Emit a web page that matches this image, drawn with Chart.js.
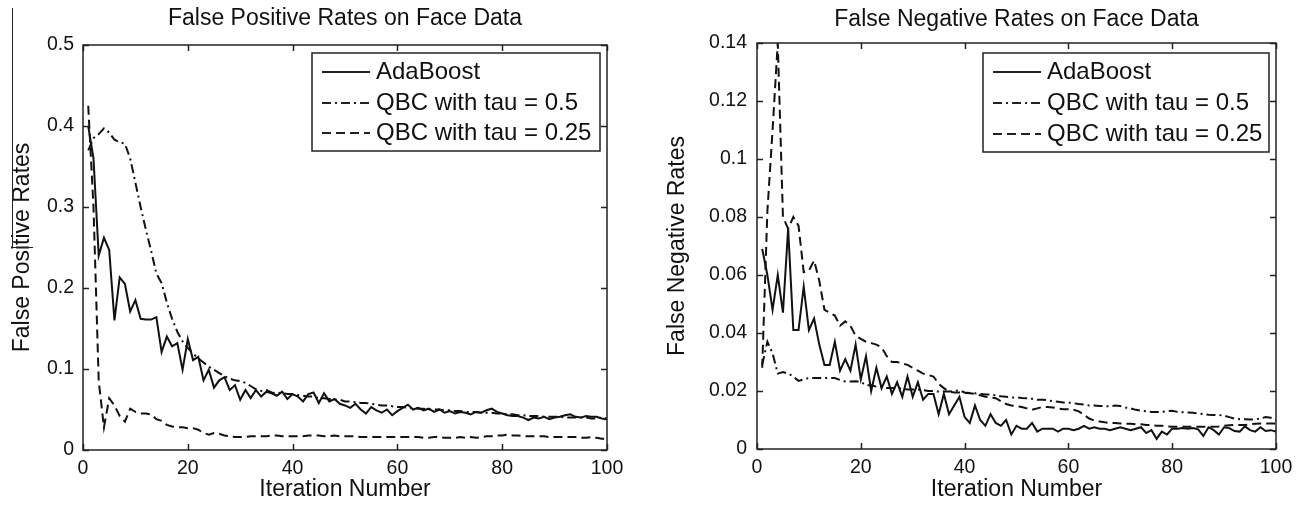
<!DOCTYPE html>
<html>
<head>
<meta charset="utf-8">
<script src="https://cdn.jsdelivr.net/npm/chart.js@4.4.1/dist/chart.umd.min.js"></script>
<style>
  html, body { margin: 0; padding: 0; background: #fff; }
  #wrap { position: relative; width: 1300px; height: 509px; overflow: hidden; }
  .pane { position: absolute; top: 0; width: 650px; height: 509px; }
  #paneFp { left: 0; }
  #paneFn { left: 650px; }
  /* crop edge left over in the scanned figure */
  #edge { position: absolute; left: 12px; top: 8px; width: 20px; height: 239px;
          border-left: 1.5px solid #222; border-bottom: 1.5px solid #222; }
</style>
</head>
<body>
<div id="wrap">
  <div class="pane" id="paneFp"><canvas id="fpChart" width="650" height="509"></canvas></div>
  <div class="pane" id="paneFn"><canvas id="fnChart" width="650" height="509"></canvas></div>
  <div id="edge"></div>
</div>
<script>
// ─── Data ────────────────────────────────────────────────────
const iterations = [
  1, 2, 3, 4, 5, 6, 7, 8, 9, 10, 11, 12, 13, 14, 15, 16, 17, 18, 19, 20,
  21, 22, 23, 24, 25, 26, 27, 28, 29, 30, 31, 32, 33, 34, 35, 36, 37, 38, 39, 40,
  41, 42, 43, 44, 45, 46, 47, 48, 49, 50, 51, 52, 53, 54, 55, 56, 57, 58, 59, 60,
  61, 62, 63, 64, 65, 66, 67, 68, 69, 70, 71, 72, 73, 74, 75, 76, 77, 78, 79, 80,
  81, 82, 83, 84, 85, 86, 87, 88, 89, 90, 91, 92, 93, 94, 95, 96, 97, 98, 99, 100
];

const seriesNames = ['AdaBoost', 'QBC with tau = 0.5', 'QBC with tau = 0.25'];

const fpAdaBoost = [
  0.400, 0.360, 0.240, 0.262, 0.247, 0.160, 0.213, 0.205, 0.171, 0.185,
  0.162, 0.161, 0.161, 0.164, 0.121, 0.140, 0.128, 0.132, 0.099, 0.137,
  0.111, 0.115, 0.086, 0.099, 0.077, 0.086, 0.090, 0.074, 0.080, 0.062,
  0.074, 0.064, 0.074, 0.066, 0.072, 0.070, 0.067, 0.072, 0.063, 0.069,
  0.066, 0.060, 0.069, 0.071, 0.058, 0.070, 0.060, 0.063, 0.057, 0.055,
  0.052, 0.057, 0.050, 0.045, 0.053, 0.049, 0.046, 0.050, 0.043, 0.048,
  0.052, 0.056, 0.050, 0.052, 0.049, 0.051, 0.047, 0.050, 0.046, 0.048,
  0.045, 0.047, 0.046, 0.044, 0.047, 0.046, 0.049, 0.051, 0.047, 0.045,
  0.043, 0.042, 0.042, 0.040, 0.037, 0.040, 0.039, 0.041, 0.038, 0.040,
  0.041, 0.043, 0.044, 0.041, 0.040, 0.042, 0.041, 0.041, 0.039, 0.038
];
const fpQbc05 = [
  0.370, 0.385, 0.390, 0.397, 0.392, 0.383, 0.380, 0.378, 0.360, 0.330,
  0.300, 0.272, 0.246, 0.218, 0.206, 0.182, 0.162, 0.146, 0.134, 0.126,
  0.119, 0.113, 0.108, 0.103, 0.099, 0.095, 0.091, 0.088, 0.086, 0.085,
  0.083, 0.079, 0.075, 0.073, 0.074, 0.071, 0.070, 0.071, 0.069, 0.069,
  0.068, 0.067, 0.066, 0.066, 0.064, 0.064, 0.063, 0.062, 0.062, 0.060,
  0.060, 0.059, 0.058, 0.058, 0.057, 0.056, 0.055, 0.055, 0.054, 0.053,
  0.053, 0.052, 0.052, 0.051, 0.051, 0.050, 0.050, 0.050, 0.049, 0.049,
  0.048, 0.048, 0.047, 0.047, 0.047, 0.046, 0.046, 0.046, 0.045, 0.045,
  0.044, 0.044, 0.043, 0.043, 0.042, 0.042, 0.042, 0.041, 0.041, 0.041,
  0.041, 0.040, 0.040, 0.040, 0.040, 0.040, 0.039, 0.039, 0.040, 0.039
];
const fpQbc025 = [
  0.425, 0.300, 0.085, 0.028, 0.064, 0.055, 0.042, 0.035, 0.051, 0.047,
  0.045, 0.045, 0.044, 0.038, 0.036, 0.031, 0.029, 0.028, 0.028, 0.027,
  0.027, 0.025, 0.021, 0.019, 0.021, 0.020, 0.018, 0.017, 0.016, 0.016,
  0.016, 0.017, 0.017, 0.017, 0.017, 0.018, 0.018, 0.017, 0.017, 0.017,
  0.017, 0.017, 0.018, 0.018, 0.018, 0.017, 0.017, 0.018, 0.017, 0.017,
  0.017, 0.017, 0.016, 0.016, 0.016, 0.016, 0.016, 0.016, 0.016, 0.016,
  0.016, 0.016, 0.016, 0.016, 0.015, 0.015, 0.016, 0.016, 0.015, 0.015,
  0.015, 0.016, 0.015, 0.016, 0.015, 0.016, 0.017, 0.017, 0.018, 0.018,
  0.019, 0.018, 0.018, 0.017, 0.017, 0.017, 0.017, 0.017, 0.016, 0.016,
  0.016, 0.016, 0.016, 0.016, 0.015, 0.015, 0.016, 0.015, 0.014, 0.014
];

const fnAdaBoost = [
  0.069, 0.060, 0.048, 0.060, 0.047, 0.076, 0.041, 0.041, 0.056, 0.041,
  0.045, 0.036, 0.029, 0.029, 0.037, 0.027, 0.031, 0.027, 0.036, 0.024,
  0.032, 0.020, 0.028, 0.021, 0.025, 0.019, 0.023, 0.018, 0.025, 0.018,
  0.023, 0.017, 0.019, 0.019, 0.012, 0.019, 0.012, 0.015, 0.018, 0.011,
  0.009, 0.015, 0.010, 0.008, 0.012, 0.009, 0.008, 0.010, 0.005, 0.008,
  0.007, 0.007, 0.009, 0.006, 0.007, 0.007, 0.007, 0.006, 0.007, 0.007,
  0.0065, 0.007, 0.008, 0.007, 0.0075, 0.007, 0.007, 0.0065, 0.007, 0.0075,
  0.007, 0.0065, 0.007, 0.0075, 0.0055, 0.0065, 0.0035, 0.006, 0.005, 0.007,
  0.007, 0.0072, 0.007, 0.0072, 0.0068, 0.0045, 0.0075, 0.0065, 0.005, 0.0075,
  0.0072, 0.0062, 0.006, 0.0078, 0.0065, 0.006, 0.0075, 0.0062, 0.0065, 0.006
];
const fnQbc05 = [
  0.029, 0.037, 0.033, 0.026, 0.0265, 0.026, 0.025, 0.0235, 0.024, 0.0245,
  0.0245, 0.0245, 0.0245, 0.0245, 0.0245, 0.0238, 0.0233, 0.0233, 0.0234, 0.0232,
  0.022, 0.022, 0.0215, 0.0215, 0.021, 0.021, 0.021, 0.0208, 0.0205, 0.0205,
  0.0205, 0.0203, 0.020, 0.020, 0.0198, 0.0198, 0.0198, 0.020, 0.0202, 0.0195,
  0.0193, 0.0192, 0.019, 0.0188, 0.0188, 0.0185, 0.0182, 0.018, 0.0178, 0.0178,
  0.0176, 0.0175, 0.0173, 0.017, 0.017, 0.0168, 0.0165, 0.0163, 0.016, 0.016,
  0.0158, 0.0155, 0.0153, 0.015, 0.015, 0.0148, 0.0148, 0.0147, 0.015, 0.0148,
  0.0143, 0.014, 0.0135, 0.0132, 0.013, 0.0128, 0.0128, 0.0128, 0.013, 0.0132,
  0.0128, 0.0127, 0.0126, 0.0125, 0.0123, 0.012, 0.0118, 0.0117, 0.0117, 0.0115,
  0.011, 0.0105, 0.0103, 0.0103, 0.0102, 0.0102, 0.0105, 0.011, 0.0108, 0.010
];
const fnQbc025 = [
  0.028, 0.082, 0.110, 0.140, 0.080, 0.076, 0.080, 0.077, 0.061, 0.0615,
  0.065, 0.058, 0.048, 0.047, 0.046, 0.0425, 0.044, 0.0425, 0.039, 0.038,
  0.037, 0.0365, 0.036, 0.035, 0.032, 0.030, 0.030, 0.0295, 0.029, 0.028,
  0.027, 0.026, 0.0255, 0.025, 0.0225, 0.021, 0.0198, 0.0195, 0.0195, 0.0193,
  0.0192, 0.019, 0.0185, 0.018, 0.0178, 0.0175, 0.0165, 0.0155, 0.015, 0.0148,
  0.0145, 0.014, 0.0135, 0.014, 0.0145, 0.0145, 0.0143, 0.014, 0.0137, 0.0137,
  0.0135, 0.013, 0.0118, 0.0105, 0.0098, 0.0095, 0.0092, 0.009, 0.009, 0.0088,
  0.0087, 0.0087, 0.0085, 0.0085, 0.0083, 0.0082, 0.008, 0.008, 0.0078, 0.0077,
  0.0077, 0.0077, 0.0077, 0.0077, 0.0077, 0.0077, 0.0077, 0.0077, 0.0078, 0.008,
  0.0082, 0.0083, 0.0083, 0.0083, 0.0085, 0.0087, 0.0088, 0.0088, 0.0088, 0.0088
];

const xTicks  = [0, 20, 40, 60, 80, 100];
const fpTicks = [0, 0.1, 0.2, 0.3, 0.4, 0.5];
const fnTicks = [0, 0.02, 0.04, 0.06, 0.08, 0.1, 0.12, 0.14];

// ─── Styles ───────────────────────────────────────────────────
const FONT = '"Liberation Sans", Arial, Helvetica, sans-serif';
const INK = '#111';
const lineStyles = [[], [9, 4, 2, 4], [9, 5]];

const toPoints = (vals) => iterations.map((it, i) => ({ x: it, y: vals[i] }));
const fmtTick = (v) => String(Number(Number(v).toFixed(3)));

// MATLAB-like frame: box, inward ticks, title and boxed legend
const matFrame = {
  id: 'matFrame',
  afterDatasetsDraw(chart, args, opts) {
    const { ctx, chartArea: a, scales: { x, y } } = chart;
    ctx.save();
    ctx.strokeStyle = '#222';
    ctx.lineWidth = 1.5;
    ctx.setLineDash([]);
    ctx.strokeRect(a.left, a.top, a.right - a.left, a.bottom - a.top);

    const tl = 6;
    ctx.beginPath();
    x.ticks.forEach(t => {
      const px = Math.round(x.getPixelForValue(t.value)) + 0.5;
      ctx.moveTo(px, a.bottom); ctx.lineTo(px, a.bottom - tl);
      ctx.moveTo(px, a.top);    ctx.lineTo(px, a.top + tl);
    });
    y.ticks.forEach(t => {
      const py = Math.round(y.getPixelForValue(t.value)) + 0.5;
      ctx.moveTo(a.left, py);  ctx.lineTo(a.left + tl, py);
      ctx.moveTo(a.right, py); ctx.lineTo(a.right - tl, py);
    });
    ctx.stroke();

    // title
    ctx.fillStyle = INK;
    ctx.font = '23px ' + FONT;
    ctx.textAlign = 'center';
    ctx.textBaseline = 'middle';
    ctx.fillText(opts.title, (a.left + a.right) / 2, opts.titleY);

    // legend box
    const L = opts.legend;
    const bx = a.right - L.right - L.width;
    const by = a.top + L.top;
    ctx.fillStyle = '#fff';
    ctx.fillRect(bx, by, L.width, L.height);
    ctx.strokeRect(bx, by, L.width, L.height);
    ctx.font = '24px ' + FONT;
    ctx.textAlign = 'left';
    chart.data.datasets.forEach((ds, i) => {
      const ry = by + L.rows[i];
      ctx.beginPath();
      ctx.setLineDash(ds.borderDash || []);
      ctx.lineWidth = 2;
      ctx.moveTo(bx + 10, ry); ctx.lineTo(bx + 58, ry);
      ctx.stroke();
      ctx.setLineDash([]);
      ctx.fillStyle = INK;
      ctx.fillText(ds.label, bx + 64, ry);
    });
    ctx.restore();
  }
};

function buildChart(canvasId, series, yTicks, yMax, cfg) {
  const ctx = document.getElementById(canvasId).getContext('2d');
  return new Chart(ctx, {
    type: 'line',
    data: {
      datasets: series.map((vals, i) => ({
        label: seriesNames[i],
        data: toPoints(vals),
        borderColor: INK,
        borderWidth: 2,
        borderDash: lineStyles[i],
        pointRadius: 0,
        tension: 0,
        fill: false
      }))
    },
    plugins: [matFrame],
    options: {
      responsive: false,
      animation: false,
      layout: { padding: cfg.padding },
      plugins: {
        legend: { display: false },
        tooltip: { enabled: false },
        matFrame: { title: cfg.title, titleY: cfg.titleY, legend: cfg.legend }
      },
      scales: {
        x: {
          type: 'linear', min: 0, max: 100,
          afterBuildTicks: (s) => { s.ticks = xTicks.map(v => ({ value: v })); },
          afterFit: (s) => { s.height = cfg.xHeight; },
          grid: { display: false, drawTicks: false },
          border: { display: false },
          ticks: { color: INK, font: { family: FONT, size: 19.5 }, padding: 7, maxRotation: 0 },
          title: { display: true, text: 'Iteration Number', color: INK,
                   font: { family: FONT, size: 23 }, padding: { top: 0, bottom: 6 } }
        },
        y: {
          min: 0, max: yMax,
          afterBuildTicks: (s) => { s.ticks = yTicks.map(v => ({ value: v })); },
          afterFit: (s) => { s.width = cfg.yWidth; },
          grid: { display: false, drawTicks: false },
          border: { display: false },
          ticks: { color: INK, font: { family: FONT, size: 19.5 }, padding: cfg.yPad, callback: fmtTick },
          title: { display: true, text: cfg.yTitle, color: INK,
                   font: { family: FONT, size: 23 }, padding: { top: cfg.yTitlePad, bottom: 0 } }
        }
      }
    }
  });
}

buildChart('fpChart', [fpAdaBoost, fpQbc05, fpQbc025], fpTicks, 0.5, {
  title: 'False Positive Rates on Face Data', titleY: 19,
  yTitle: 'False Positive Rates', yTitlePad: 9, yPad: 9,
  padding: { left: 0, right: 43, top: 45, bottom: 0 },
  yWidth: 83, xHeight: 59,
  legend: { width: 288, height: 98, right: 7, top: 8, rows: [19, 50, 80] }
});

buildChart('fnChart', [fnAdaBoost, fnQbc05, fnQbc025], fnTicks, 0.14, {
  title: 'False Negative Rates on Face Data', titleY: 20,
  yTitle: 'False Negative Rates', yTitlePad: 14, yPad: 10,
  padding: { left: 0, right: 24, top: 43, bottom: 0 },
  yWidth: 107, xHeight: 60,
  legend: { width: 286, height: 99, right: 7, top: 10, rows: [19, 50, 81] }
});
</script>
</body>
</html>
